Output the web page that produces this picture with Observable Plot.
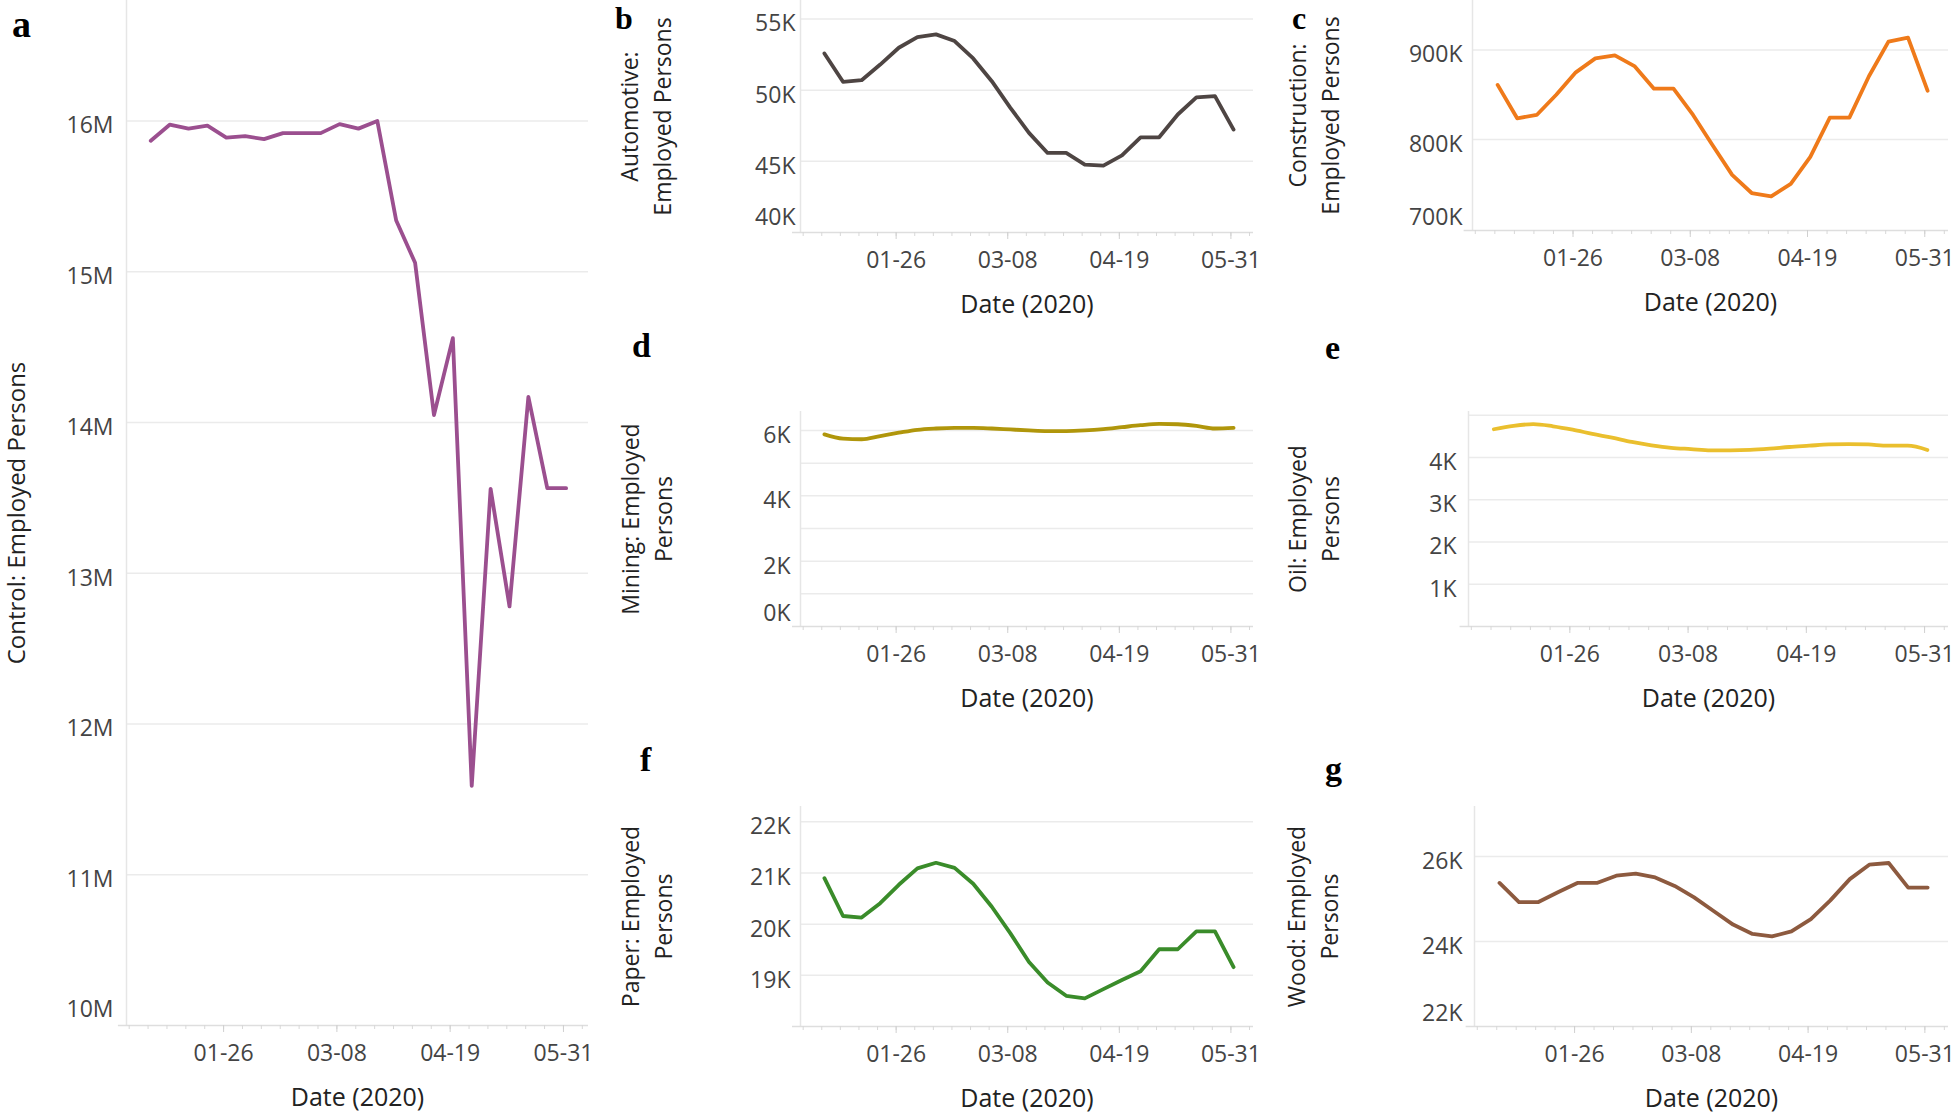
<!DOCTYPE html>
<html><head><meta charset="utf-8">
<script src="https://cdn.jsdelivr.net/npm/d3@7"></script>
<script src="https://cdn.jsdelivr.net/npm/@observablehq/plot@0.6"></script>
<style>
body{margin:0;background:#fff;}
#fig{position:relative;width:1960px;height:1118px;background:#fff;overflow:hidden;}
.letter{position:absolute;font-family:'Liberation Serif','Times New Roman',serif;font-weight:bold;line-height:0.6;color:#000;}
</style></head><body><div id="fig"></div>
<script>
// weekly observation dates
const dates = ["2019-12-30","2020-01-06","2020-01-13","2020-01-20","2020-01-27","2020-02-03","2020-02-10","2020-02-17","2020-02-24","2020-03-02","2020-03-09","2020-03-16","2020-03-23","2020-03-30","2020-04-06","2020-04-13","2020-04-20","2020-04-27","2020-05-04","2020-05-11","2020-05-18","2020-05-25","2020-06-01"];
const majorTickDates = ["2020-01-26","2020-03-08","2020-04-19","2020-05-31"];

const control = [15.87e6,15.976e6,15.95e6,15.97e6,15.89e6,15.90e6,15.88e6,15.92e6,15.92e6,15.92e6,15.98e6,15.95e6,16.0e6,15.34e6,15.06e6,14.05e6,14.56e6,11.59e6,13.56e6,12.78e6,14.17e6,13.565e6,13.565e6];
const automotive = [52580,50590,50700,51800,52980,53730,53920,53450,52230,50630,48760,47000,45590,45590,44770,44700,45420,46690,46690,48290,49500,49580,47230];
const construction = [861000,823700,827400,850000,875000,890600,894000,882000,856800,856800,827400,793600,760500,740200,736500,750400,780500,824400,824400,870700,909400,913900,854500];
const mining = [5880,5750,5730,5830,5930,6020,6060,6080,6080,6060,6030,6000,5980,5980,6000,6040,6100,6160,6200,6190,6140,6060,6080];
const oil = [4670,4750,4790,4740,4660,4560,4470,4370,4290,4230,4200,4170,4170,4180,4210,4250,4280,4310,4320,4310,4280,4280,4180];
const paper = [20900,20160,20130,20410,20770,21090,21200,21100,20790,20340,19820,19260,18860,18600,18550,18730,18910,19080,19510,19510,19860,19860,19160];
const wood = [25380,24930,24930,25160,25380,25380,25550,25600,25510,25310,25040,24720,24400,24180,24120,24240,24530,24970,25470,25810,25850,25270,25270];

const fmtM = d => d / 1e6 + "M";
const fmtK = d => d / 1000 + "K";

const fig = document.getElementById("fig");
const minorTicks = d3.utcSunday.range(new Date("2019-12-22"), new Date("2020-06-08"));
const majorTicks = majorTickDates.map(d => new Date(d));

function drawPanel(p) {
  const rows = dates.map((d, i) => ({date: new Date(d), value: p.values[i]}));
  const xd = [new Date("2019-12-21"), new Date(p.xEnd || "2020-06-08T12:00")];
  const marks = [
    Plot.ruleY(p.grid, {stroke: "#ebebeb", strokeWidth: 1.5}),
    Plot.ruleX([xd[0]], {stroke: "#e6e6e6", strokeWidth: 1.5}),
    Plot.ruleY([p.yDomain[0]], {x1: () => new Date("2019-12-18"), x2: () => xd[1], stroke: "#dedede", strokeWidth: 1.5}),
    Plot.axisX({ticks: minorTicks, tickSize: 4, tickFormat: () => "", stroke: "#d8d8d8", label: null}),
    Plot.axisX({ticks: majorTicks, tickSize: 7, tickPadding: 12, tickFormat: d3.utcFormat("%m-%d"), stroke: "#d0d0d0", fill: "#444", fontSize: 23, label: null}),
    Plot.axisY({ticks: p.labels, tickSize: 0, tickPadding: p.pad, tickFormat: p.fmt, fill: "#444", fontSize: 23, dy: 5, label: null})
  ];
  if (p.bottomLabel != null) {
    marks.push(Plot.axisY({ticks: [p.bottomLabel], tickSize: 0, tickPadding: p.pad, tickFormat: p.fmt, fill: "#444", fontSize: 23, dy: p.bottomDy, label: null}));
  }
  marks.push(
    Plot.line(rows, {x: "date", y: "value", stroke: p.color, strokeWidth: 3.8, curve: p.curve || "linear", strokeLinejoin: "round", strokeLinecap: "round"}),
    Plot.text(["Date (2020)"], {text: d => d, frameAnchor: "bottom", dy: 80, fontSize: 25, fill: "#222"}),
    Plot.text([p.title.join("\n")], {text: d => d, frameAnchor: "left", dx: p.titleDx, rotate: -90, fontSize: p.titleSize || 23, lineHeight: 1.45, fill: "#222", textAnchor: "middle", lineAnchor: "middle"})
  );
  const svg = Plot.plot({
    width: p.width, height: p.height,
    marginTop: p.mT, marginBottom: p.mB, marginLeft: p.mL, marginRight: p.mR,
    x: {type: "utc", domain: xd},
    y: {domain: p.yDomain},
    style: {fontFamily: "'Open Sans', sans-serif", background: "transparent", overflow: "visible"},
    marks
  });
  svg.style.position = "absolute";
  svg.style.left = p.left + "px";
  svg.style.top = p.top + "px";
  fig.appendChild(svg);
}

const panels = [
  {values: control, color: "#9b4f8f", left: 0, top: 0, width: 600, height: 1118, mT: 0, mB: 93, mL: 126, mR: 12,
   yDomain: [10e6, 16.8e6], grid: [11e6,12e6,13e6,14e6,15e6,16e6], labels: [11e6,12e6,13e6,14e6,15e6,16e6],
   bottomLabel: 10e6, bottomDy: -16, pad: 13, fmt: fmtM, title: ["Control: Employed Persons"], titleDx: -113, titleSize: 24, xEnd: "2020-06-09T07:00"},
  {values: automotive, color: "#4e4543", left: 600, top: 0, width: 680, height: 330, mT: 0, mB: 98, mL: 200, mR: 27,
   yDomain: [40000, 56300], grid: [45000,50000,55000], labels: [45000,50000,55000],
   bottomLabel: 40000, bottomDy: -15, pad: 5, fmt: fmtK, title: ["Automotive:", "Employed Persons"], titleDx: -157},
  {values: construction, color: "#ef7a1a", left: 1280, top: 0, width: 680, height: 330, mT: 0, mB: 100, mL: 192, mR: 12,
   yDomain: [698300, 955300], grid: [800000,900000], labels: [800000,900000],
   bottomLabel: 700000, bottomDy: -11, pad: 10, fmt: fmtK, title: ["Construction:", "Employed Persons"], titleDx: -161},
  {values: mining, color: "#b0960b", curve: "monotone-x", left: 600, top: 400, width: 680, height: 320, mT: 11, mB: 94, mL: 200, mR: 27,
   yDomain: [0, 6580], grid: [1000,2000,3000,4000,5000,6000], labels: [2000,4000,6000],
   bottomLabel: 0, bottomDy: -13, pad: 10, fmt: fmtK, title: ["Mining: Employed", "Persons"], titleDx: -156},
  {values: oil, color: "#eabf2e", curve: "monotone-x", left: 1280, top: 400, width: 680, height: 320, mT: 11, mB: 94, mL: 188, mR: 12,
   yDomain: [0, 5090], grid: [1000,2000,3000,4000,5000], labels: [1000,2000,3000,4000],
   bottomLabel: null, pad: 12, fmt: fmtK, title: ["Oil: Employed", "Persons"], titleDx: -157},
  {values: paper, color: "#3a8c2a", left: 600, top: 790, width: 680, height: 328, mT: 16, mB: 92, mL: 200, mR: 27,
   yDomain: [18000, 22300], grid: [19000,20000,21000,22000], labels: [19000,20000,21000,22000],
   bottomLabel: null, pad: 10, fmt: fmtK, title: ["Paper: Employed", "Persons"], titleDx: -156},
  {values: wood, color: "#8d5a3f", left: 1280, top: 790, width: 680, height: 328, mT: 16, mB: 92, mL: 194, mR: 12,
   yDomain: [22000, 27180], grid: [24000,26000], labels: [24000,26000],
   bottomLabel: 22000, bottomDy: -13, pad: 12, fmt: fmtK, title: ["Wood: Employed", "Persons"], titleDx: -164}
];
panels.forEach(drawPanel);

const letterLabels = ["a","b","c","d","e","f","g"];
const letterPos = [[12,12.8,38],[615,8.6,32],[1292,8.6,32],[632,336.3,34],[1325,338.3,34],[640,750.3,34],[1325,759.3,34]];
letterLabels.forEach((t, i) => {
  const el = document.createElement("div");
  el.className = "letter";
  el.textContent = t;
  el.style.left = letterPos[i][0] + "px";
  el.style.top = letterPos[i][1] + "px";
  el.style.fontSize = letterPos[i][2] + "px";
  fig.appendChild(el);
});
</script>
</body></html>
